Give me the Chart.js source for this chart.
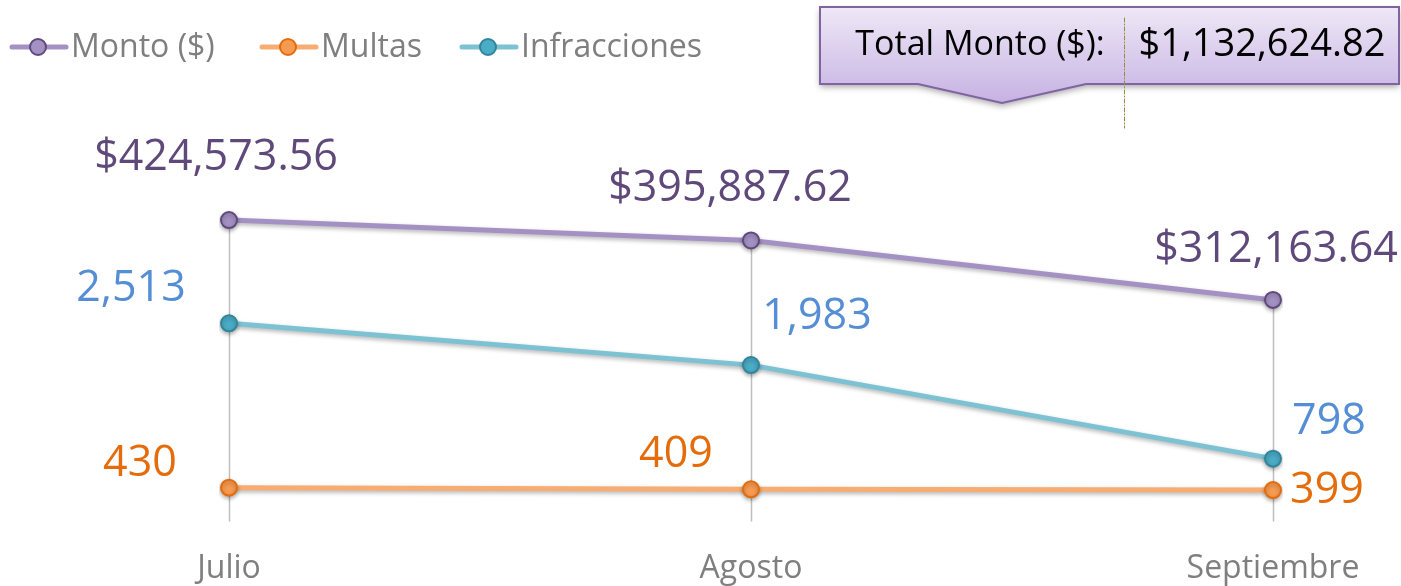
<!DOCTYPE html>
<html>
<head>
<meta charset="utf-8">
<script src="https://cdn.jsdelivr.net/npm/chart.js@4"></script>
<style>
  body { margin: 0; background: #fff; }
  #wrap { width: 1401px; height: 586px; position: relative; }
</style>
</head>
<body>
<div id="wrap"><canvas id="lineChart"></canvas></div>
<script>
// data
const meses = ['Julio', 'Agosto', 'Septiembre'];
const monto = [424573.56, 395887.62, 312163.64];
const multas = [430, 409, 399];
const infracciones = [2513, 1983, 798];

// label offsets from each point (dx, dy)
const montoOff = [[-13, -62], [-21, -52], [3, -50]];
const multasOff = [[-89, -24], [-75, -35], [54, 1]];
const infrOff = [[-98, -35], [66, -48], [56, -37]];

const FONT = '"Open Sans", "Noto Sans", sans-serif';

const fmtMoney = v => '$' + v.toLocaleString('en-US', { minimumFractionDigits: 2, maximumFractionDigits: 2 });
const fmtInt = v => v.toLocaleString('en-US');

const totalMonto = monto.reduce((a, b) => a + b, 0);

const series = [
  { label: 'Monto ($)', data: monto, yAxisID: 'y', line: '#a491c4', fill: '#a491c4', border: '#604a7b', text: '#5f497a', off: montoOff, fmt: fmtMoney },
  { label: 'Multas', data: multas, yAxisID: 'y2', line: '#f7ad72', fill: '#f79b52', border: '#e46c0a', text: '#e46c0a', off: multasOff, fmt: fmtInt },
  { label: 'Infracciones', data: infracciones, yAxisID: 'y2', line: '#7cc2d3', fill: '#4bacc6', border: '#31859c', text: '#558ed5', off: infrOff, fmt: fmtInt }
];

const extras = {
  id: 'extras',
  beforeDatasetsDraw(chart) {
    const ctx = chart.ctx;
    const bottom = chart.chartArea.bottom;
    const meta = chart.getDatasetMeta(0);
    ctx.save();
    ctx.strokeStyle = '#bfbfbf';
    ctx.lineWidth = 1.5;
    meta.data.forEach(pt => {
      ctx.beginPath();
      ctx.moveTo(Math.round(pt.x) + 0.5, pt.y);
      ctx.lineTo(Math.round(pt.x) + 0.5, bottom);
      ctx.stroke();
    });
    ctx.restore();
    ctx.save();
    ctx.shadowColor = 'rgba(0,0,0,0.3)';
    ctx.shadowBlur = 4;
    ctx.shadowOffsetY = 2;
  },
  afterDatasetsDraw(chart) {
    const ctx = chart.ctx;
    ctx.restore();
    ctx.save();
    ctx.font = '43px ' + FONT;
    ctx.textAlign = 'center';
    ctx.textBaseline = 'middle';
    series.forEach((s, i) => {
      const meta = chart.getDatasetMeta(i);
      ctx.fillStyle = s.text;
      meta.data.forEach((pt, j) => {
        ctx.fillText(s.fmt(s.data[j]), pt.x + s.off[j][0], pt.y + s.off[j][1]);
      });
    });
    ctx.restore();
  },
  afterDraw(chart) {
    const ctx = chart.ctx;
    ctx.save();

    // legend
    const legendX = [12, 262, 462];
    ctx.font = '32px ' + FONT;
    ctx.textBaseline = 'middle';
    series.forEach((s, i) => {
      const x = legendX[i], y = 47;
      ctx.strokeStyle = s.line;
      ctx.lineWidth = 5;
      ctx.lineCap = 'round';
      ctx.beginPath();
      ctx.moveTo(x, y);
      ctx.lineTo(x + 54, y);
      ctx.stroke();
      ctx.beginPath();
      ctx.arc(x + 26, y, 8, 0, Math.PI * 2);
      ctx.fillStyle = s.fill;
      ctx.fill();
      ctx.lineWidth = 2;
      ctx.strokeStyle = s.border;
      ctx.stroke();
      ctx.fillStyle = '#7f7f7f';
      ctx.fillText(s.label, x + 59, y + 1);
    });

    // total callout
    const L = 820, T = 7, R = 1399, B = 84;
    ctx.beginPath();
    ctx.moveTo(L, T);
    ctx.lineTo(R, T);
    ctx.lineTo(R, B);
    ctx.lineTo(1086, B);
    ctx.lineTo(1002, 103);
    ctx.lineTo(918, B);
    ctx.lineTo(L, B);
    ctx.closePath();
    const g = ctx.createLinearGradient(0, T, 0, 103);
    g.addColorStop(0, '#eee8f6');
    g.addColorStop(1, '#c6b2e3');
    ctx.save();
    ctx.shadowColor = 'rgba(0,0,0,0.35)';
    ctx.shadowBlur = 6;
    ctx.shadowOffsetY = 3;
    ctx.fillStyle = g;
    ctx.fill();
    ctx.restore();
    ctx.strokeStyle = '#8064a2';
    ctx.lineWidth = 2;
    ctx.stroke();

    ctx.strokeStyle = '#9c8a3c';
    ctx.lineWidth = 1;
    ctx.setLineDash([4, 2, 1, 2]);
    ctx.beginPath();
    ctx.moveTo(1124.5, 18);
    ctx.lineTo(1124.5, 128);
    ctx.stroke();
    ctx.setLineDash([]);

    ctx.fillStyle = '#000';
    ctx.textAlign = 'center';
    ctx.font = '34px ' + FONT;
    ctx.fillText('Total Monto ($):', 980, 45);
    ctx.font = '38px ' + FONT;
    ctx.fillText(fmtMoney(totalMonto), 1262, 45);
    ctx.restore();
  }
};

new Chart(document.getElementById('lineChart'), {
  type: 'line',
  data: {
    labels: meses,
    datasets: series.map(s => ({
      label: s.label,
      data: s.data,
      yAxisID: s.yAxisID,
      borderColor: s.line,
      borderWidth: 5,
      pointRadius: 8,
      pointBorderWidth: 2,
      pointBackgroundColor: s.fill,
      pointBorderColor: s.border,
      tension: 0
    }))
  },
  options: {
    responsive: true,
    maintainAspectRatio: false,
    animation: false,
    layout: { padding: { left: 229, right: 128, top: 131, bottom: -30 } },
    plugins: { legend: { display: false }, tooltip: { enabled: false } },
    scales: {
      x: {
        offset: false,
        grid: { display: false, drawTicks: false },
        border: { display: false },
        ticks: { color: '#7f7f7f', font: { size: 32, family: FONT }, padding: 28, maxRotation: 0 }
      },
      y: { display: false, min: 0, max: 550000 },
      y2: { display: false, min: 0, max: 4950 }
    }
  },
  plugins: [extras]
});
</script>
</body>
</html>
